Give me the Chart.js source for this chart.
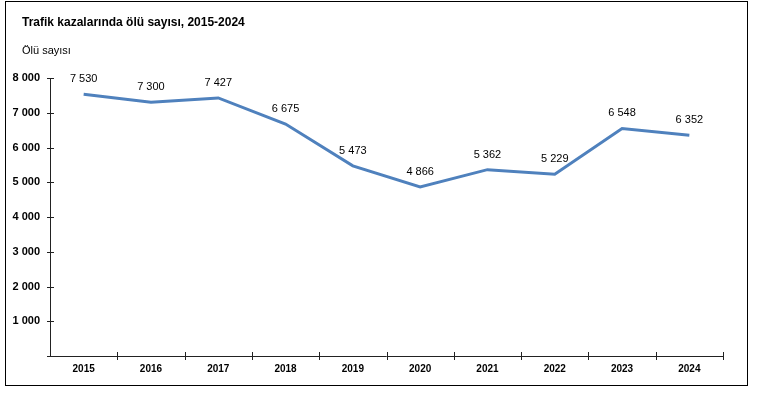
<!DOCTYPE html>
<html><head><meta charset="utf-8">
<script src="https://cdn.jsdelivr.net/npm/chart.js@4"></script>
<style>html,body{margin:0;padding:0;background:#fff}#wrap{width:758px;height:393px;position:relative}</style>
</head><body>
<div id="wrap"><canvas id="c" width="758" height="393"></canvas></div>
<script>
/* Trafik kazalarında ölü sayısı — line chart */
const YEARS=['2015','2016','2017','2018','2019','2020','2021','2022','2023','2024'];
const DEATHS=[7530,7300,7427,6675,5473,4866,5362,5229,6548,6352];
const Y_TICKS=[0,1000,2000,3000,4000,5000,6000,7000,8000];
const TITLE='Trafik kazalarında ölü sayısı, 2015-2024';
const Y_TITLE='Ölü sayısı';

const fmt=v=>String(v).replace(/\B(?=(\d{3})+(?!\d))/g,' ');
const FONT='"Liberation Sans", Arial, sans-serif';

const decor={id:'decor',
  afterDraw(ch){
    const c=ch.ctx,a=ch.chartArea,x=ch.scales.x,y=ch.scales.y;
    c.save();
    // frame
    c.strokeStyle='#000';c.lineWidth=1;
    c.strokeRect(5.5,1.5,742,384);
    // titles
    c.fillStyle='#000';c.textAlign='left';c.textBaseline='alphabetic';
    c.font='bold 12px '+FONT;c.fillText(TITLE,22,26);
    c.font='11px '+FONT;c.fillText(Y_TITLE,22,54);
    // axes
    c.strokeStyle='#222';c.lineWidth=1;
    c.beginPath();c.moveTo(a.left+0.5,a.top);c.lineTo(a.left+0.5,a.bottom);
    c.moveTo(a.left,a.bottom+0.5);c.lineTo(a.right,a.bottom+0.5);
    Y_TICKS.forEach(v=>{const py=Math.round(y.getPixelForValue(v))+0.5;c.moveTo(a.left-3,py);c.lineTo(a.left+4,py);});
    const w=(a.right-a.left)/YEARS.length;
    for(let i=1;i<=YEARS.length;i++){const px=Math.round(a.left+w*i)+0.5;c.moveTo(px,a.bottom-4);c.lineTo(px,a.bottom+4);}
    c.stroke();
    // data labels
    c.font='11px '+FONT;c.textAlign='center';c.textBaseline='middle';c.fillStyle='#000';
    ch.getDatasetMeta(0).data.forEach((p,i)=>c.fillText(fmt(DEATHS[i]),p.x,p.y-15));
    c.restore();
  }};

new Chart(document.getElementById('c'),{
  type:'line',
  data:{labels:YEARS,datasets:[{data:DEATHS,borderColor:'#4F81BD',borderWidth:3,pointRadius:0,tension:0,fill:false}]},
  options:{responsive:false,animation:false,
    layout:{padding:{top:78,right:35,left:0,bottom:0}},
    plugins:{legend:{display:false},tooltip:{enabled:false}},
    scales:{
      x:{offset:true,grid:{display:false},border:{display:false},
        ticks:{color:'#000',font:{family:FONT,size:10,weight:'bold'},padding:-1,maxRotation:0},
        afterFit:s=>{s.height=37;}},
      y:{min:0,max:8000,grid:{display:false},border:{display:false},
        afterBuildTicks:s=>{s.ticks=Y_TICKS.map(v=>({value:v}));},
        ticks:{color:'#000',font:{family:FONT,size:11,weight:'bold'},padding:2,
          callback:v=>v===0?'':fmt(v)},
        afterFit:s=>{s.width=50;}}
    }},
  plugins:[decor]});
</script>
</body></html>
